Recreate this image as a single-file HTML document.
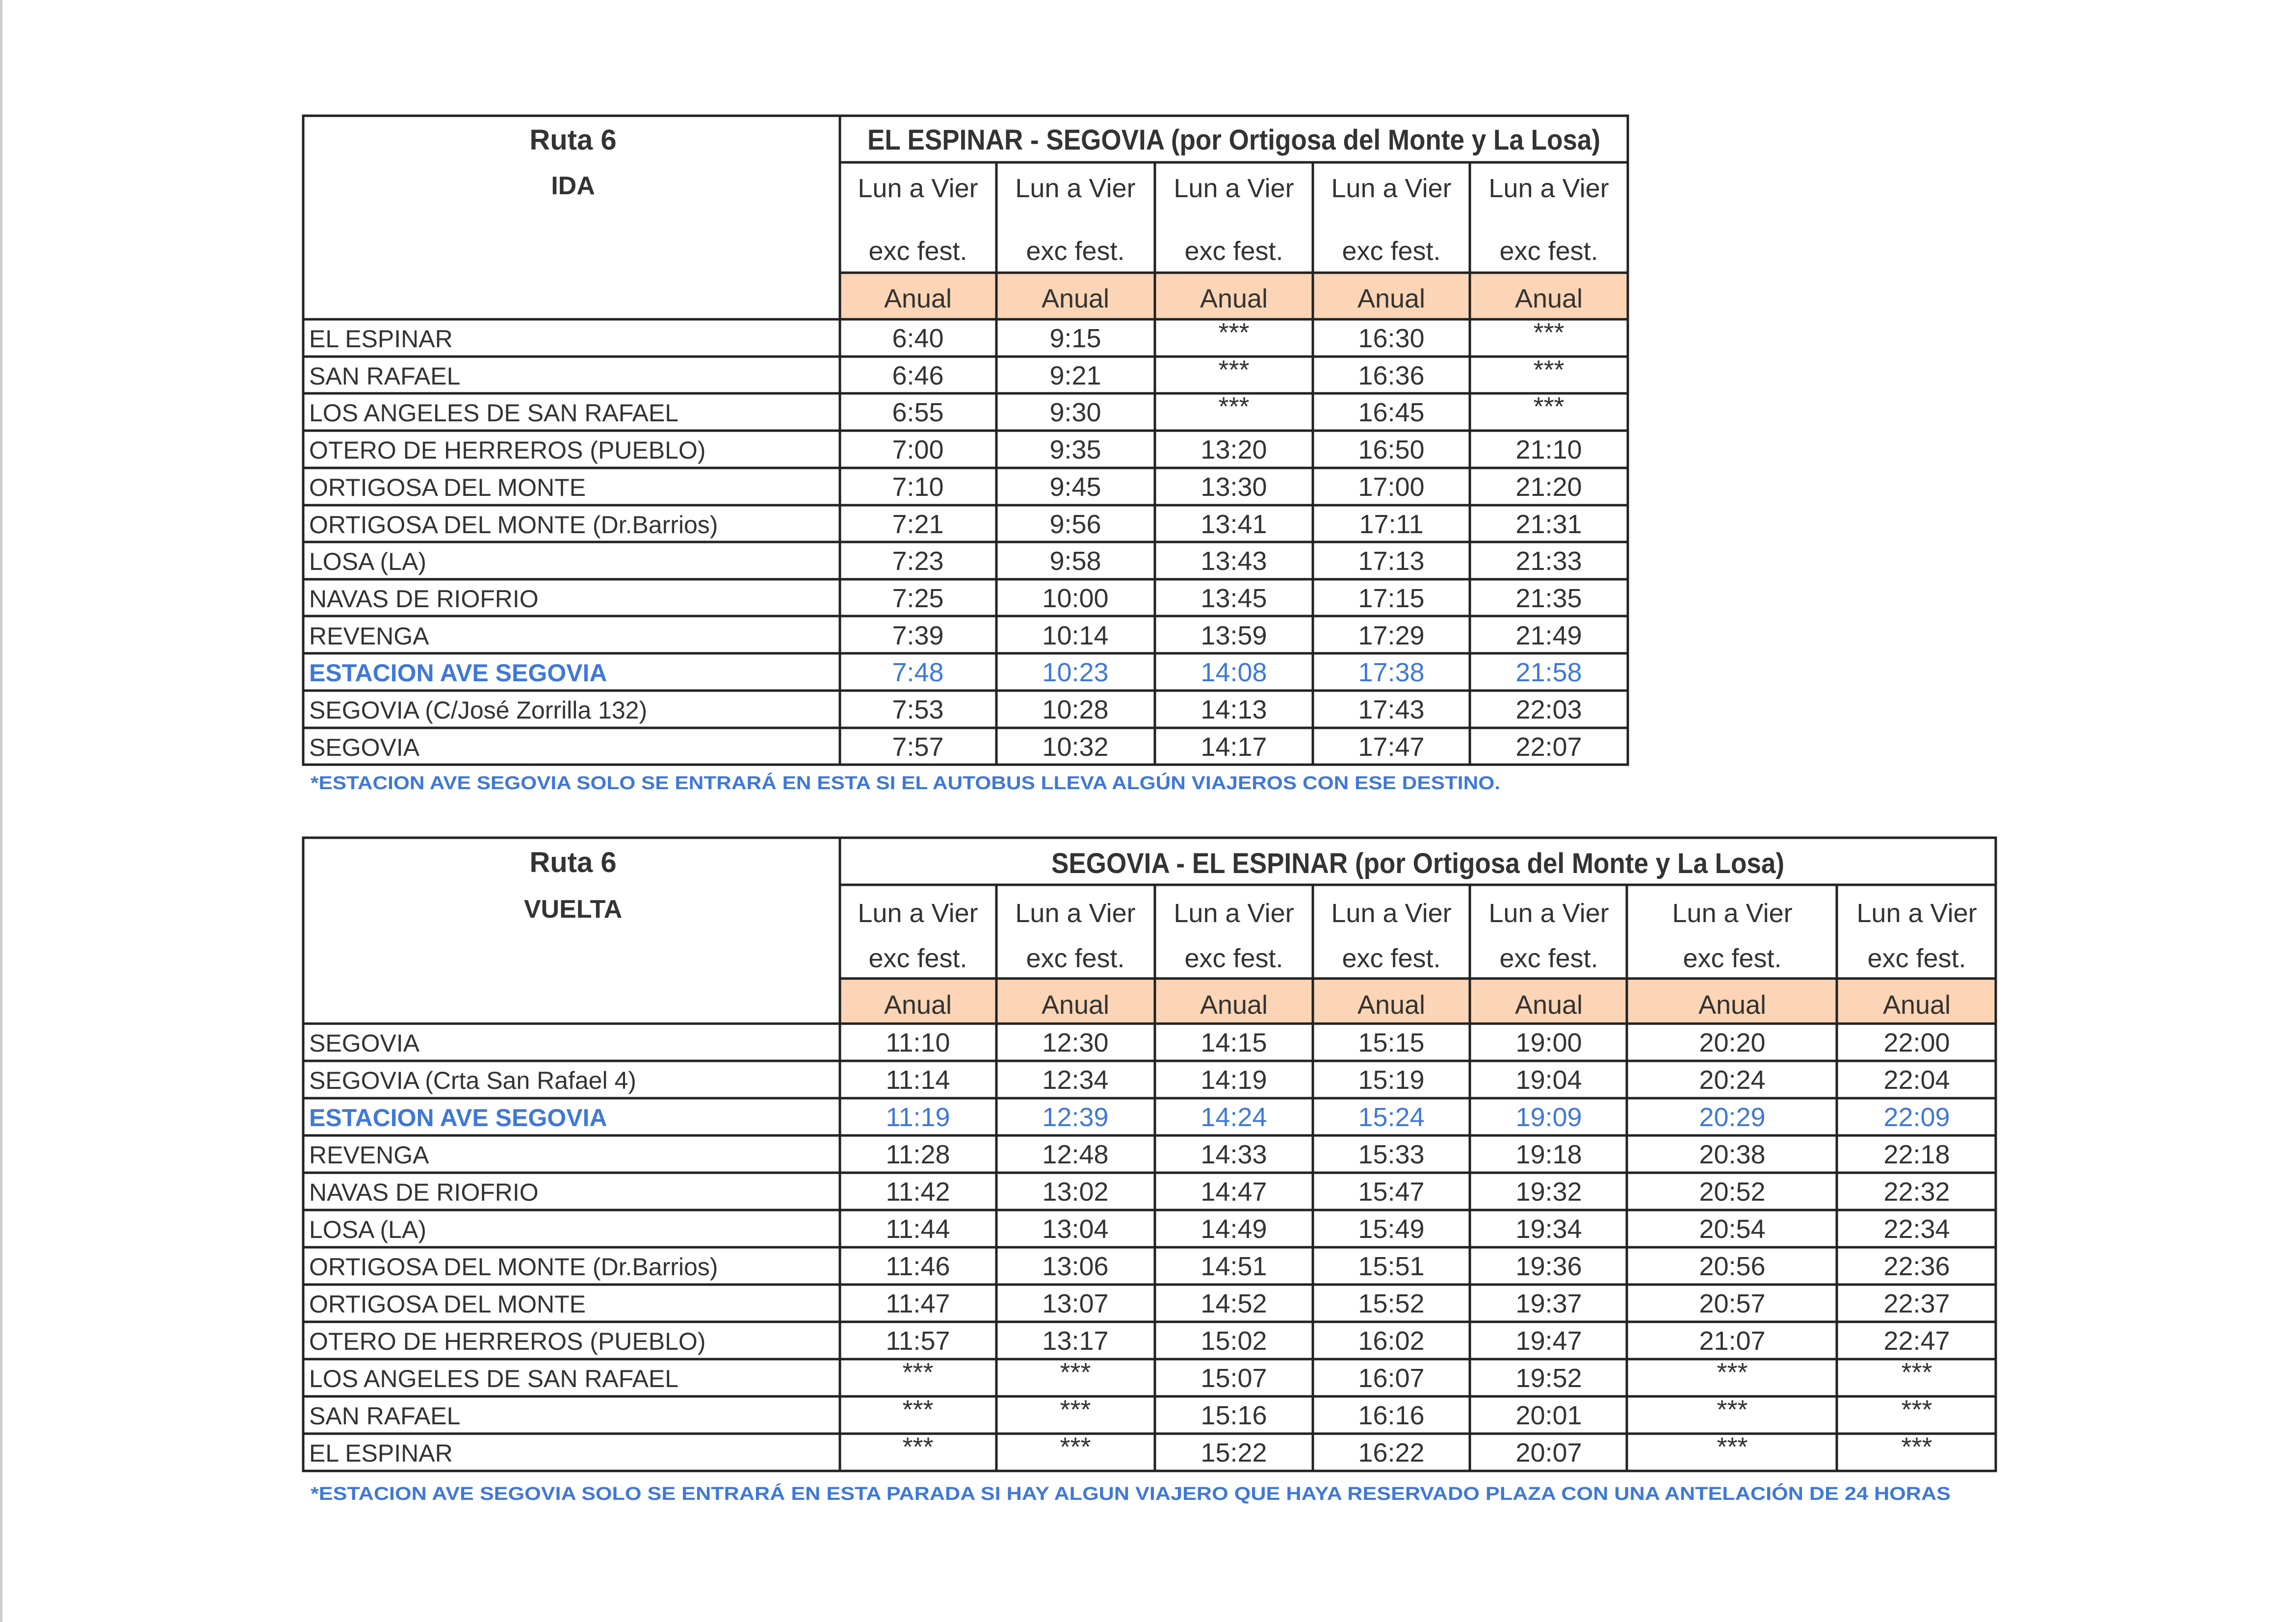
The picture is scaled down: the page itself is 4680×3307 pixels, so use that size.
<!DOCTYPE html>
<html><head><meta charset="utf-8"><style>
html,body{margin:0;padding:0;background:#fff;}
svg{display:block;}
text{font-family:"Liberation Sans",sans-serif;fill:#333;}
.h{font-size:58px;font-weight:bold;}
.s{font-size:54px;}
.l{font-size:50px;}
.t{font-size:54px;text-anchor:middle;}
.c{text-anchor:middle;}
.b{fill:#3f78d8;}
.f{font-size:38px;font-weight:bold;fill:#3f78d8;}
line{stroke:#222;stroke-width:5;}
</style></head><body>
<svg width="4680" height="3307" viewBox="0 0 4680 3307" xmlns="http://www.w3.org/2000/svg">
<rect x="0" y="0" width="4680" height="3307" fill="#fff"/>
<rect x="0" y="0" width="5" height="3307" fill="#ccc"/>
<!-- TABLE 1 -->
<rect x="1712" y="556" width="1606" height="95" fill="#fbd5b5"/>
<rect x="618" y="236" width="2700" height="1323" fill="none" stroke="#222" stroke-width="5"/>
<line x1="1712" y1="331" x2="3318" y2="331"/>
<line x1="1712" y1="556" x2="3318" y2="556"/>
<line x1="618" y1="651" x2="3318" y2="651"/>
<line x1="618" y1="727" x2="3318" y2="727"/>
<line x1="618" y1="802" x2="3318" y2="802"/>
<line x1="618" y1="878" x2="3318" y2="878"/>
<line x1="618" y1="954" x2="3318" y2="954"/>
<line x1="618" y1="1030" x2="3318" y2="1030"/>
<line x1="618" y1="1105" x2="3318" y2="1105"/>
<line x1="618" y1="1181" x2="3318" y2="1181"/>
<line x1="618" y1="1256" x2="3318" y2="1256"/>
<line x1="618" y1="1332" x2="3318" y2="1332"/>
<line x1="618" y1="1408" x2="3318" y2="1408"/>
<line x1="618" y1="1484" x2="3318" y2="1484"/>
<line x1="1712" y1="236" x2="1712" y2="1559"/>
<line x1="2031" y1="331" x2="2031" y2="1559"/>
<line x1="2354" y1="331" x2="2354" y2="1559"/>
<line x1="2676" y1="331" x2="2676" y2="1559"/>
<line x1="2996" y1="331" x2="2996" y2="1559"/>
<text class="h c" x="1168" y="305">Ruta 6</text>
<text class="h c" x="1168" y="396" style="font-size:52px">IDA</text>
<text class="h c" x="2515" y="305" textLength="1494" lengthAdjust="spacingAndGlyphs">EL ESPINAR - SEGOVIA (por Ortigosa del Monte y La Losa)</text>
<g class="s c">
<text class="s c" x="1871" y="402">Lun a Vier</text><text class="s c" x="2192" y="402">Lun a Vier</text><text class="s c" x="2515" y="402">Lun a Vier</text><text class="s c" x="2836" y="402">Lun a Vier</text><text class="s c" x="3157" y="402">Lun a Vier</text>
<text class="s c" x="1871" y="530">exc fest.</text><text class="s c" x="2192" y="530">exc fest.</text><text class="s c" x="2515" y="530">exc fest.</text><text class="s c" x="2836" y="530">exc fest.</text><text class="s c" x="3157" y="530">exc fest.</text>
<text class="s c" x="1871" y="627">Anual</text><text class="s c" x="2192" y="627">Anual</text><text class="s c" x="2515" y="627">Anual</text><text class="s c" x="2836" y="627">Anual</text><text class="s c" x="3157" y="627">Anual</text>
</g>
<text class="l" x="630" y="708">EL ESPINAR</text>
<text class="l" x="630" y="784">SAN RAFAEL</text>
<text class="l" x="630" y="859">LOS ANGELES DE SAN RAFAEL</text>
<text class="l" x="630" y="935">OTERO DE HERREROS (PUEBLO)</text>
<text class="l" x="630" y="1011">ORTIGOSA DEL MONTE</text>
<text class="l" x="630" y="1087">ORTIGOSA DEL MONTE (Dr.Barrios)</text>
<text class="l" x="630" y="1162">LOSA (LA)</text>
<text class="l" x="630" y="1238">NAVAS DE RIOFRIO</text>
<text class="l" x="630" y="1314">REVENGA</text>
<text class="l b" x="630" y="1389" style="font-weight:bold">ESTACION AVE SEGOVIA</text>
<text class="l" x="630" y="1465">SEGOVIA (C/José Zorrilla 132)</text>
<text class="l" x="630" y="1541">SEGOVIA</text>
<text class="t" x="1871" y="708">6:40</text><text class="t" x="2192" y="708">9:15</text><text class="t" x="2515" y="696">***</text><text class="t" x="2836" y="708">16:30</text><text class="t" x="3157" y="696">***</text>
<text class="t" x="1871" y="784">6:46</text><text class="t" x="2192" y="784">9:21</text><text class="t" x="2515" y="772">***</text><text class="t" x="2836" y="784">16:36</text><text class="t" x="3157" y="772">***</text>
<text class="t" x="1871" y="859">6:55</text><text class="t" x="2192" y="859">9:30</text><text class="t" x="2515" y="847">***</text><text class="t" x="2836" y="859">16:45</text><text class="t" x="3157" y="847">***</text>
<text class="t" x="1871" y="935">7:00</text><text class="t" x="2192" y="935">9:35</text><text class="t" x="2515" y="935">13:20</text><text class="t" x="2836" y="935">16:50</text><text class="t" x="3157" y="935">21:10</text>
<text class="t" x="1871" y="1011">7:10</text><text class="t" x="2192" y="1011">9:45</text><text class="t" x="2515" y="1011">13:30</text><text class="t" x="2836" y="1011">17:00</text><text class="t" x="3157" y="1011">21:20</text>
<text class="t" x="1871" y="1087">7:21</text><text class="t" x="2192" y="1087">9:56</text><text class="t" x="2515" y="1087">13:41</text><text class="t" x="2836" y="1087">17:11</text><text class="t" x="3157" y="1087">21:31</text>
<text class="t" x="1871" y="1162">7:23</text><text class="t" x="2192" y="1162">9:58</text><text class="t" x="2515" y="1162">13:43</text><text class="t" x="2836" y="1162">17:13</text><text class="t" x="3157" y="1162">21:33</text>
<text class="t" x="1871" y="1238">7:25</text><text class="t" x="2192" y="1238">10:00</text><text class="t" x="2515" y="1238">13:45</text><text class="t" x="2836" y="1238">17:15</text><text class="t" x="3157" y="1238">21:35</text>
<text class="t" x="1871" y="1314">7:39</text><text class="t" x="2192" y="1314">10:14</text><text class="t" x="2515" y="1314">13:59</text><text class="t" x="2836" y="1314">17:29</text><text class="t" x="3157" y="1314">21:49</text>
<text class="t b" x="1871" y="1389">7:48</text><text class="t b" x="2192" y="1389">10:23</text><text class="t b" x="2515" y="1389">14:08</text><text class="t b" x="2836" y="1389">17:38</text><text class="t b" x="3157" y="1389">21:58</text>
<text class="t" x="1871" y="1465">7:53</text><text class="t" x="2192" y="1465">10:28</text><text class="t" x="2515" y="1465">14:13</text><text class="t" x="2836" y="1465">17:43</text><text class="t" x="3157" y="1465">22:03</text>
<text class="t" x="1871" y="1541">7:57</text><text class="t" x="2192" y="1541">10:32</text><text class="t" x="2515" y="1541">14:17</text><text class="t" x="2836" y="1541">17:47</text><text class="t" x="3157" y="1541">22:07</text>
<text class="f" x="633" y="1609" textLength="2425" lengthAdjust="spacingAndGlyphs">*ESTACION AVE SEGOVIA SOLO SE ENTRARÁ EN ESTA SI EL AUTOBUS LLEVA ALGÚN VIAJEROS CON ESE DESTINO.</text>

<!-- TABLE 2 -->
<rect x="1712" y="1995" width="2356" height="92" fill="#fbd5b5"/>
<rect x="618" y="1708" width="3450" height="1291" fill="none" stroke="#222" stroke-width="5"/>
<line x1="1712" y1="1804" x2="4068" y2="1804"/>
<line x1="1712" y1="1995" x2="4068" y2="1995"/>
<line x1="618" y1="2087" x2="4068" y2="2087"/>
<line x1="618" y1="2163" x2="4068" y2="2163"/>
<line x1="618" y1="2239" x2="4068" y2="2239"/>
<line x1="618" y1="2315" x2="4068" y2="2315"/>
<line x1="618" y1="2391" x2="4068" y2="2391"/>
<line x1="618" y1="2467" x2="4068" y2="2467"/>
<line x1="618" y1="2543" x2="4068" y2="2543"/>
<line x1="618" y1="2619" x2="4068" y2="2619"/>
<line x1="618" y1="2695" x2="4068" y2="2695"/>
<line x1="618" y1="2771" x2="4068" y2="2771"/>
<line x1="618" y1="2847" x2="4068" y2="2847"/>
<line x1="618" y1="2923" x2="4068" y2="2923"/>
<line x1="1712" y1="1708" x2="1712" y2="2999"/>
<line x1="2031" y1="1804" x2="2031" y2="2999"/>
<line x1="2354" y1="1804" x2="2354" y2="2999"/>
<line x1="2676" y1="1804" x2="2676" y2="2999"/>
<line x1="2996" y1="1804" x2="2996" y2="2999"/>
<line x1="3316" y1="1804" x2="3316" y2="2999"/>
<line x1="3744" y1="1804" x2="3744" y2="2999"/>
<text class="h c" x="1168" y="1778">Ruta 6</text>
<text class="h c" x="1168" y="1871" style="font-size:52px">VUELTA</text>
<text class="h c" x="2890" y="1780" textLength="1494" lengthAdjust="spacingAndGlyphs">SEGOVIA - EL ESPINAR (por Ortigosa del Monte y La Losa)</text>
<text class="s c" x="1871" y="1880">Lun a Vier</text><text class="s c" x="2192" y="1880">Lun a Vier</text><text class="s c" x="2515" y="1880">Lun a Vier</text><text class="s c" x="2836" y="1880">Lun a Vier</text><text class="s c" x="3157" y="1880">Lun a Vier</text><text class="s c" x="3531" y="1880">Lun a Vier</text><text class="s c" x="3907" y="1880">Lun a Vier</text>
<text class="s c" x="1871" y="1972">exc fest.</text><text class="s c" x="2192" y="1972">exc fest.</text><text class="s c" x="2515" y="1972">exc fest.</text><text class="s c" x="2836" y="1972">exc fest.</text><text class="s c" x="3157" y="1972">exc fest.</text><text class="s c" x="3531" y="1972">exc fest.</text><text class="s c" x="3907" y="1972">exc fest.</text>
<text class="s c" x="1871" y="2067">Anual</text><text class="s c" x="2192" y="2067">Anual</text><text class="s c" x="2515" y="2067">Anual</text><text class="s c" x="2836" y="2067">Anual</text><text class="s c" x="3157" y="2067">Anual</text><text class="s c" x="3531" y="2067">Anual</text><text class="s c" x="3907" y="2067">Anual</text>
<text class="l" x="630" y="2144">SEGOVIA</text>
<text class="l" x="630" y="2220">SEGOVIA (Crta San Rafael 4)</text>
<text class="l b" x="630" y="2296" style="font-weight:bold">ESTACION AVE SEGOVIA</text>
<text class="l" x="630" y="2372">REVENGA</text>
<text class="l" x="630" y="2448">NAVAS DE RIOFRIO</text>
<text class="l" x="630" y="2524">LOSA (LA)</text>
<text class="l" x="630" y="2600">ORTIGOSA DEL MONTE (Dr.Barrios)</text>
<text class="l" x="630" y="2676">ORTIGOSA DEL MONTE</text>
<text class="l" x="630" y="2752">OTERO DE HERREROS (PUEBLO)</text>
<text class="l" x="630" y="2828">LOS ANGELES DE SAN RAFAEL</text>
<text class="l" x="630" y="2904">SAN RAFAEL</text>
<text class="l" x="630" y="2980">EL ESPINAR</text>
<text class="t" x="1871" y="2144">11:10</text><text class="t" x="2192" y="2144">12:30</text><text class="t" x="2515" y="2144">14:15</text><text class="t" x="2836" y="2144">15:15</text><text class="t" x="3157" y="2144">19:00</text><text class="t" x="3531" y="2144">20:20</text><text class="t" x="3907" y="2144">22:00</text>
<text class="t" x="1871" y="2220">11:14</text><text class="t" x="2192" y="2220">12:34</text><text class="t" x="2515" y="2220">14:19</text><text class="t" x="2836" y="2220">15:19</text><text class="t" x="3157" y="2220">19:04</text><text class="t" x="3531" y="2220">20:24</text><text class="t" x="3907" y="2220">22:04</text>
<text class="t b" x="1871" y="2296">11:19</text><text class="t b" x="2192" y="2296">12:39</text><text class="t b" x="2515" y="2296">14:24</text><text class="t b" x="2836" y="2296">15:24</text><text class="t b" x="3157" y="2296">19:09</text><text class="t b" x="3531" y="2296">20:29</text><text class="t b" x="3907" y="2296">22:09</text>
<text class="t" x="1871" y="2372">11:28</text><text class="t" x="2192" y="2372">12:48</text><text class="t" x="2515" y="2372">14:33</text><text class="t" x="2836" y="2372">15:33</text><text class="t" x="3157" y="2372">19:18</text><text class="t" x="3531" y="2372">20:38</text><text class="t" x="3907" y="2372">22:18</text>
<text class="t" x="1871" y="2448">11:42</text><text class="t" x="2192" y="2448">13:02</text><text class="t" x="2515" y="2448">14:47</text><text class="t" x="2836" y="2448">15:47</text><text class="t" x="3157" y="2448">19:32</text><text class="t" x="3531" y="2448">20:52</text><text class="t" x="3907" y="2448">22:32</text>
<text class="t" x="1871" y="2524">11:44</text><text class="t" x="2192" y="2524">13:04</text><text class="t" x="2515" y="2524">14:49</text><text class="t" x="2836" y="2524">15:49</text><text class="t" x="3157" y="2524">19:34</text><text class="t" x="3531" y="2524">20:54</text><text class="t" x="3907" y="2524">22:34</text>
<text class="t" x="1871" y="2600">11:46</text><text class="t" x="2192" y="2600">13:06</text><text class="t" x="2515" y="2600">14:51</text><text class="t" x="2836" y="2600">15:51</text><text class="t" x="3157" y="2600">19:36</text><text class="t" x="3531" y="2600">20:56</text><text class="t" x="3907" y="2600">22:36</text>
<text class="t" x="1871" y="2676">11:47</text><text class="t" x="2192" y="2676">13:07</text><text class="t" x="2515" y="2676">14:52</text><text class="t" x="2836" y="2676">15:52</text><text class="t" x="3157" y="2676">19:37</text><text class="t" x="3531" y="2676">20:57</text><text class="t" x="3907" y="2676">22:37</text>
<text class="t" x="1871" y="2752">11:57</text><text class="t" x="2192" y="2752">13:17</text><text class="t" x="2515" y="2752">15:02</text><text class="t" x="2836" y="2752">16:02</text><text class="t" x="3157" y="2752">19:47</text><text class="t" x="3531" y="2752">21:07</text><text class="t" x="3907" y="2752">22:47</text>
<text class="t" x="1871" y="2816">***</text><text class="t" x="2192" y="2816">***</text><text class="t" x="2515" y="2828">15:07</text><text class="t" x="2836" y="2828">16:07</text><text class="t" x="3157" y="2828">19:52</text><text class="t" x="3531" y="2816">***</text><text class="t" x="3907" y="2816">***</text>
<text class="t" x="1871" y="2892">***</text><text class="t" x="2192" y="2892">***</text><text class="t" x="2515" y="2904">15:16</text><text class="t" x="2836" y="2904">16:16</text><text class="t" x="3157" y="2904">20:01</text><text class="t" x="3531" y="2892">***</text><text class="t" x="3907" y="2892">***</text>
<text class="t" x="1871" y="2968">***</text><text class="t" x="2192" y="2968">***</text><text class="t" x="2515" y="2980">15:22</text><text class="t" x="2836" y="2980">16:22</text><text class="t" x="3157" y="2980">20:07</text><text class="t" x="3531" y="2968">***</text><text class="t" x="3907" y="2968">***</text>
<text class="f" x="633" y="3058" textLength="3343" lengthAdjust="spacingAndGlyphs">*ESTACION AVE SEGOVIA SOLO SE ENTRARÁ EN ESTA PARADA SI HAY ALGUN VIAJERO QUE HAYA RESERVADO PLAZA CON UNA ANTELACIÓN DE 24 HORAS</text>
</svg>
</body></html>
